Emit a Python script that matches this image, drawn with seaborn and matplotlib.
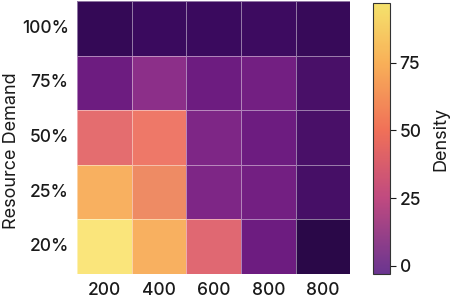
import numpy as np
import pandas as pd
import seaborn as sns
import matplotlib.pyplot as plt
from matplotlib.colors import LinearSegmentedColormap, Normalize
from matplotlib.cm import ScalarMappable

rows = ['100%', '75%', '50%', '25%', '20%']
cols = ['200', '400', '600', '800', '800 ']
density = [
    [1, 3, 3, 4, 2],
    [14, 21, 14, 15, 7],
    [45, 52, 18, 14, 7],
    [68, 58, 18, 15, 6],
    [96, 68, 42, 14, -3],
]

df = pd.DataFrame(density, index=rows, columns=cols)

vmin, vmax = -3, 97


def make_cmap(name, nodes):
    pos = [(v - vmin) / (vmax - vmin) for v, _ in nodes]
    return LinearSegmentedColormap.from_list(name, list(zip(pos, [c for _, c in nodes])))


cell_cmap = make_cmap('cells', [
    (-3, '#2a0848'), (3, '#3a0a5e'), (7, '#4a1068'), (14, '#6e1c80'),
    (20, '#882c8a'), (42, '#e06872'), (52, '#ee7868'), (58, '#ee8a64'),
    (68, '#f8b060'), (97, '#fae67c'),
])
bar_cmap = make_cmap('bar', [
    (-3, '#6a3590'), (25, '#c04a80'), (50, '#f07058'),
    (75, '#f8b058'), (97, '#f5e26c'),
])

sns.set_style('white')
plt.rcParams['font.family'] = ['Inter', 'DejaVu Sans']
plt.rcParams['font.weight'] = 'medium'

fig = plt.figure(figsize=(4.56, 3.01), dpi=100)
ax = fig.add_axes([0.169, 0.09, 0.599, 0.907])
cax = fig.add_axes([0.818, 0.09, 0.037, 0.90])

sns.heatmap(df, ax=ax, cmap=cell_cmap, vmin=vmin, vmax=vmax, cbar=False,
            linewidths=0.6, linecolor=(1, 1, 1, 0.45))
ax.set_xlabel('')
ax.set_ylabel('Resource Demand', fontsize=13, color='#1a1a1a')
ax.yaxis.set_label_coords(-0.21, 0.45)
ax.tick_params(axis='both', length=0, labelsize=12.5, colors='#1a1a1a', pad=6)
ax.set_yticklabels(rows, rotation=0)
ax.set_xticklabels(['200', '400', '600', '800', '800'], rotation=0)

cb = fig.colorbar(ScalarMappable(norm=Normalize(vmin, vmax), cmap=bar_cmap), cax=cax)
cb.set_ticks([0, 25, 50, 75])
cb.ax.tick_params(labelsize=12.5, length=4, width=0.8, colors='#1a1a1a', pad=3)
cb.outline.set_linewidth(0.8)
cb.outline.set_edgecolor('#333333')
cb.set_label('Density', fontsize=13, color='#1a1a1a', labelpad=8)

fig.savefig('out.png', dpi=100)
